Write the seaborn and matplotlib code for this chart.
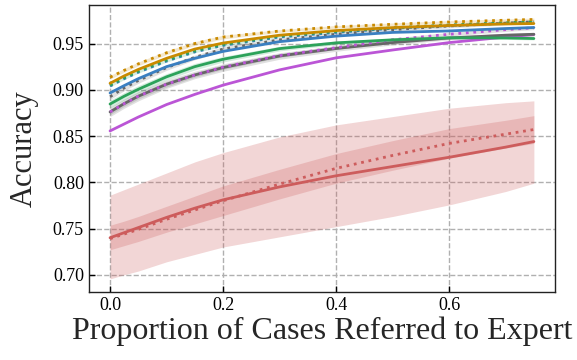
import numpy as np
import pandas as pd
import matplotlib
matplotlib.use("Agg")
import matplotlib.pyplot as plt
import seaborn as sns

# ---- data ----
x = [0.0, 0.025, 0.05, 0.1, 0.15, 0.2, 0.3, 0.4, 0.5, 0.6, 0.7, 0.75]

red_solid = [0.740, 0.7455, 0.751, 0.762, 0.772, 0.781, 0.795, 0.807, 0.817, 0.827, 0.838, 0.844]
red_solid_lo = [0.6955, 0.700, 0.704, 0.714, 0.722, 0.730, 0.741, 0.752, 0.763, 0.7755, 0.790, 0.799]
red_solid_hi = [0.786, 0.792, 0.798, 0.810, 0.822, 0.832, 0.849, 0.862, 0.871, 0.880, 0.886, 0.888]
red_dot = [0.739, 0.744, 0.749, 0.760, 0.770, 0.780, 0.798, 0.815, 0.829, 0.842, 0.852, 0.857]
red_dot_lo = [0.727, 0.7315, 0.736, 0.746, 0.755, 0.764, 0.782, 0.799, 0.813, 0.826, 0.837, 0.842]
red_dot_hi = [0.7535, 0.758, 0.763, 0.774, 0.785, 0.796, 0.814, 0.831, 0.845, 0.858, 0.867, 0.872]

purple_solid = [0.8555, 0.863, 0.8705, 0.884, 0.895, 0.905, 0.9215, 0.9345, 0.943, 0.951, 0.957, 0.9597]
purple_dot = [0.876, 0.885, 0.893, 0.906, 0.916, 0.9245, 0.937, 0.9455, 0.954, 0.960, 0.965, 0.967]
gray_solid = [0.876, 0.885, 0.893, 0.906, 0.916, 0.924, 0.9365, 0.9446, 0.951, 0.956, 0.959, 0.960]
gray_dot = [0.8925, 0.902, 0.910, 0.924, 0.935, 0.944, 0.954, 0.960, 0.965, 0.969, 0.972, 0.9735]
green_solid = [0.8846, 0.893, 0.9005, 0.914, 0.925, 0.933, 0.9445, 0.9507, 0.954, 0.9562, 0.956, 0.9554]
green_dot = [0.905, 0.913, 0.920, 0.932, 0.942, 0.949, 0.958, 0.963, 0.967, 0.970, 0.9725, 0.9735]
blue_solid = [0.8965, 0.9045, 0.912, 0.925, 0.934, 0.9415, 0.952, 0.958, 0.962, 0.9636, 0.9662, 0.9673]
blue_dot = [0.904, 0.912, 0.919, 0.931, 0.941, 0.948, 0.957, 0.962, 0.9665, 0.9695, 0.972, 0.973]
orange_solid = [0.907, 0.915, 0.922, 0.934, 0.944, 0.9505, 0.959, 0.964, 0.9672, 0.9695, 0.9712, 0.9716]
orange_dot = [0.9135, 0.921, 0.928, 0.940, 0.950, 0.957, 0.9635, 0.968, 0.9708, 0.9733, 0.9752, 0.976]

# half widths of the light confidence bands
gray_solid_hw = [0.005, 0.005, 0.005, 0.0045, 0.004, 0.004, 0.0035, 0.003, 0.0025, 0.002, 0.002, 0.002]
green_solid_hw = [0.004, 0.004, 0.004, 0.0035, 0.0035, 0.003, 0.0025, 0.002, 0.0015, 0.0015, 0.0015, 0.0015]
gray_dot_hw = [0.003, 0.003, 0.003, 0.003, 0.0025, 0.0025, 0.002, 0.002, 0.002, 0.002, 0.002, 0.002]
orange_dot_hw = [0.002, 0.002, 0.002, 0.002, 0.002, 0.002, 0.0015, 0.0015, 0.0015, 0.0015, 0.0015, 0.0015]

colors = {
    "red": "#cd5c5c",
    "purple": "#bb55d6",
    "gray": "#666666",
    "green": "#2ca25a",
    "blue": "#3a7fc1",
    "orange": "#c98a00",
}

series = [
    ("red_solid", red_solid, "red", "solid"),
    ("red_dot", red_dot, "red", "dot"),
    ("purple_solid", purple_solid, "purple", "solid"),
    ("gray_solid", gray_solid, "gray", "solid"),
    ("purple_dot", purple_dot, "purple", "dot"),
    ("green_solid", green_solid, "green", "solid"),
    ("gray_dot", gray_dot, "gray", "dot"),
    ("blue_solid", blue_solid, "blue", "solid"),
    ("blue_dot", blue_dot, "blue", "dot"),
    ("green_dot", green_dot, "green", "dot"),
    ("orange_solid", orange_solid, "orange", "solid"),
    ("orange_dot", orange_dot, "orange", "dot"),
]

rows = []
for name, vals, col, sty in series:
    for xi, v in zip(x, vals):
        rows.append({"x": xi, "acc": v, "series": name, "style": sty})
df = pd.DataFrame(rows)

sns.set_style("ticks")
plt.rcParams["font.family"] = ["Liberation Serif", "DejaVu Serif"]

fig, ax = plt.subplots(figsize=(5.77, 3.6), dpi=100)
fig.subplots_adjust(left=0.154, right=0.962, top=0.986, bottom=0.189)

xa = np.array(x)
# bands
ax.fill_between(xa, red_solid_lo, red_solid_hi, color=colors["red"], alpha=0.25, lw=0)
ax.fill_between(xa, red_dot_lo, red_dot_hi, color=colors["red"], alpha=0.25, lw=0)
for vals, hw, col in [(gray_solid, gray_solid_hw, "gray"),
                      (green_solid, green_solid_hw, "green"),
                      (gray_dot, gray_dot_hw, "gray"),
                      (purple_dot, gray_dot_hw, "gray"),
                      (orange_dot, orange_dot_hw, "orange"),
                      (green_dot, orange_dot_hw, "green")]:
    v = np.array(vals); h = np.array(hw)
    ax.fill_between(xa, v - h, v + h, color=colors[col], alpha=0.2, lw=0)

palette = {name: colors[col] for name, _, col, _ in series}
sns.lineplot(data=df, x="x", y="acc", hue="series", style="style",
             palette=palette, dashes={"solid": "", "dot": (1, 1.7)},
             hue_order=[s[0] for s in series], linewidth=2.0,
             legend=False, ax=ax, errorbar=None)

ax.margins(x=0.05, y=0.05)
ax.set_xticks([0.0, 0.2, 0.4, 0.6])
ax.set_yticks([0.70, 0.75, 0.80, 0.85, 0.90, 0.95])
ax.set_xticklabels(["0.0", "0.2", "0.4", "0.6"])
ax.set_yticklabels(["0.70", "0.75", "0.80", "0.85", "0.90", "0.95"])
ax.tick_params(direction="in", labelsize=13, length=4, width=1, colors="black")
ax.grid(True, linestyle="--", color="#b0b0b0", linewidth=1.0)
ax.set_axisbelow(True)
for sp in ax.spines.values():
    sp.set_visible(True)
    sp.set_color("#222222")
    sp.set_linewidth(1.0)
ax.set_xlabel("Proportion of Cases Referred to Expert", fontsize=23, labelpad=2)
ax.set_ylabel("Accuracy", fontsize=22, labelpad=10)

fig.savefig("out.png", dpi=100)
